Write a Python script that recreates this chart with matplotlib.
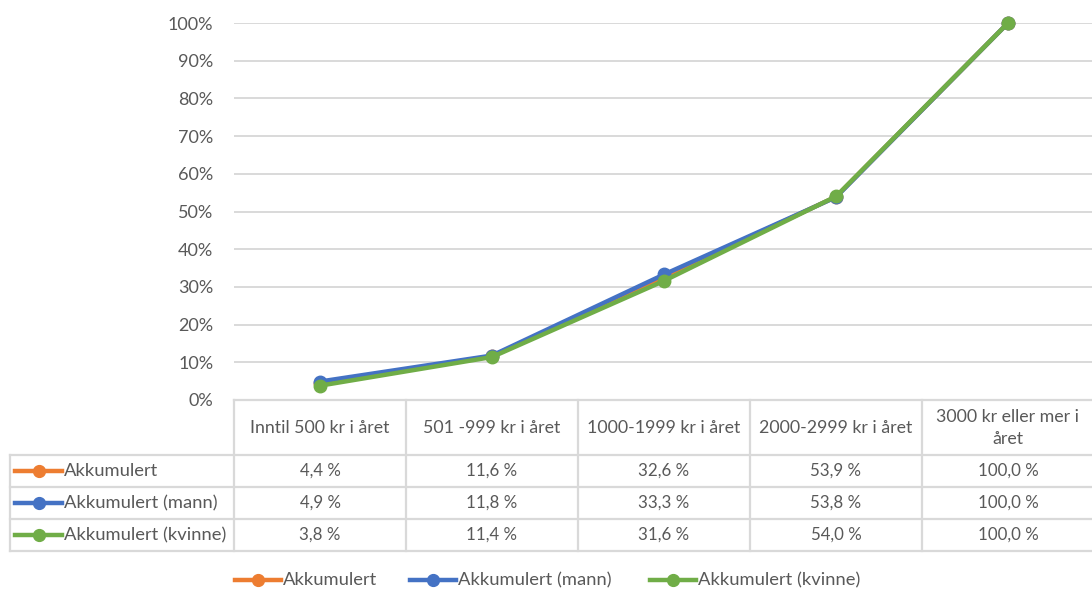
import matplotlib
matplotlib.use("Agg")
import matplotlib.pyplot as plt
from matplotlib.lines import Line2D

categories = ["Inntil 500 kr i året", "501 -999 kr i året", "1000-1999 kr i året",
              "2000-2999 kr i året", "3000 kr eller mer i\nåret"]
series_names = ["Akkumulert", "Akkumulert (mann)", "Akkumulert (kvinne)"]
akk_total = [4.4, 11.6, 32.6, 53.9, 100.0]
akk_mann = [4.9, 11.8, 33.3, 53.8, 100.0]
akk_kvinne = [3.8, 11.4, 31.6, 54.0, 100.0]
yticks = [0, 10, 20, 30, 40, 50, 60, 70, 80, 90, 100]
colors = ["#ED7D31", "#4472C4", "#70AD47"]
series = [akk_total, akk_mann, akk_kvinne]

W, H = 1092, 592
FONT = "Lato"
TXT = "#595959"
GRID = "#D9D9D9"

fig = plt.figure(figsize=(W / 100, H / 100), dpi=100)

# main plot axes in pixel coordinates
x0, x1 = 234, 1092
ytop, ybot = 23, 400
ax = fig.add_axes([x0 / W, 1 - ybot / H, (x1 - x0) / W, (ybot - ytop) / H])
n = len(categories)
xpos = list(range(n))
for vals, c, name in zip(series, colors, series_names):
    ax.plot(xpos, vals, color=c, lw=3.2, marker="o", ms=9, label=name,
            solid_joinstyle="round", clip_on=False, zorder=3)
ax.set_xlim(-0.5, n - 0.5 - (1094 - 1092) / 172)
ax.set_ylim(0, 100)
ax.set_yticks(yticks)
ax.set_yticklabels([f"{v}%" for v in yticks], fontsize=13, color=TXT, family=FONT)
ax.tick_params(axis="y", length=0, pad=15)
ax.set_xticks([])
ax.grid(axis="y", color=GRID, lw=1.4)
ax.set_axisbelow(True)
for s in ax.spines.values():
    s.set_visible(False)

# overlay axes for the data table in pixel coords
ov = fig.add_axes([0, 0, 1, 1])
ov.set_xlim(0, W)
ov.set_ylim(H, 0)
ov.axis("off")
ov.patch.set_alpha(0)

colw = (x1 - x0 + 2) / n
def colx(i):
    return x0 + colw * (i + 0.5)

lw_t = 1.6
ov.plot([x0, W], [400, 400], color=GRID, lw=lw_t)
row_tops = [455, 487, 519, 551]
for y in row_tops:
    ov.plot([10, W], [y, y], color=GRID, lw=lw_t)
for i in range(n):
    xb = x0 + colw * i
    ov.plot([xb, xb], [400, 551], color=GRID, lw=lw_t)
ov.plot([10, 10], [455, 551], color=GRID, lw=lw_t)

for i, cat in enumerate(categories):
    ov.text(colx(i), 428, cat, ha="center", va="center", fontsize=12.8,
            color=TXT, family=FONT, linespacing=1.45)

for r, (vals, c, name) in enumerate(zip(series, colors, series_names)):
    yc = (row_tops[r] + row_tops[r + 1]) / 2
    ov.add_line(Line2D([15, 62], [yc, yc], color=c, lw=3.2))
    ov.plot([38.5], [yc], "o", color=c, ms=8.5)
    ov.text(64, yc, name, ha="left", va="center", fontsize=13.2, color=TXT, family=FONT)
    for i, v in enumerate(vals):
        ov.text(colx(i), yc, f"{v:.1f} %".replace(".", ","), ha="center", va="center",
                fontsize=12.2, color=TXT, family=FONT)

# legend at bottom
leg_x = [235, 410, 650]
for lx, c, name in zip(leg_x, colors, series_names):
    ov.add_line(Line2D([lx, lx + 46], [580, 580], color=c, lw=3.2))
    ov.plot([lx + 23], [580], "o", color=c, ms=8.5)
    ov.text(lx + 48, 580, name, ha="left", va="center", fontsize=13.2, color=TXT, family=FONT)

fig.savefig("out.png", dpi=100)
